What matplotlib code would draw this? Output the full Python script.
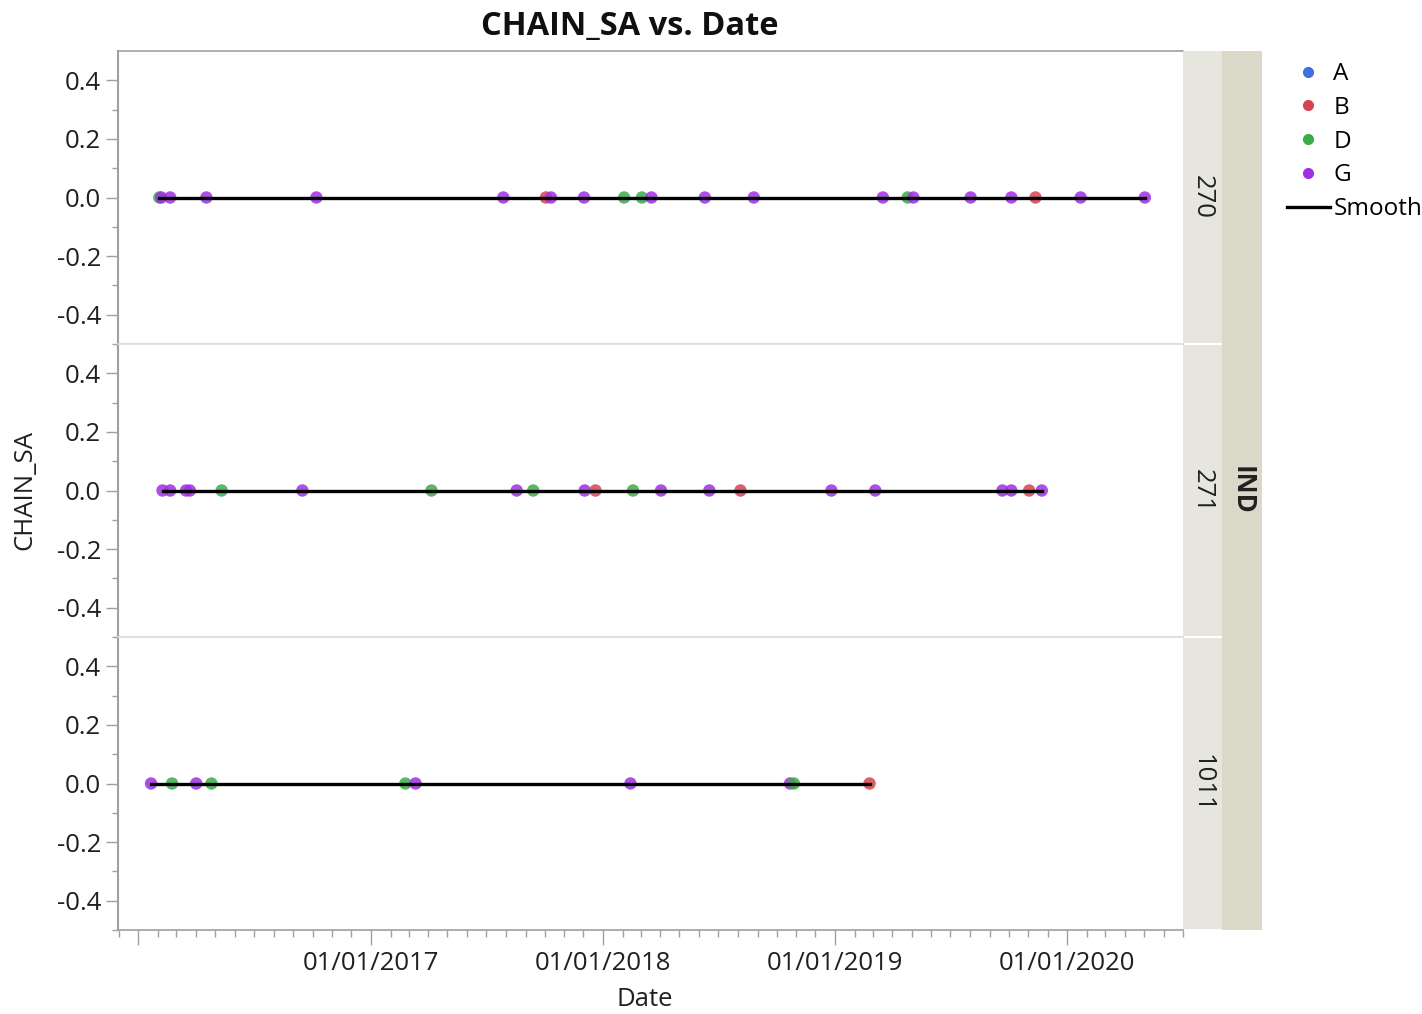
import matplotlib
matplotlib.use("Agg")
import matplotlib.pyplot as plt
import matplotlib.dates as mdates
from matplotlib.lines import Line2D
from matplotlib.ticker import FixedLocator
import numpy as np

plt.rcParams["font.family"] = ["Open Sans", "DejaVu Sans"]

# data (CHAIN_SA is 0 for every row)
panels = ["270", "271", "1011"]

dates_270 = ["2016-02-03", "2016-02-06", "2016-02-20", "2016-04-17", "2016-10-07",
             "2017-07-28", "2017-10-03", "2017-10-11", "2017-12-02", "2018-02-03",
             "2018-03-03", "2018-03-18", "2018-06-10", "2018-08-26", "2019-03-17",
             "2019-04-25", "2019-05-04", "2019-08-02", "2019-10-05", "2019-11-12",
             "2020-01-22", "2020-05-02"]
group_270 = ["D", "G", "G", "G", "G", "G", "B", "G", "G", "D", "D",
             "G", "G", "G", "G", "D", "G", "G", "G", "B", "G", "G"]
chain_270 = [0.0, 0.0, 0.0, 0.0, 0.0, 0.0, 0.0, 0.0, 0.0, 0.0, 0.0,
             0.0, 0.0, 0.0, 0.0, 0.0, 0.0, 0.0, 0.0, 0.0, 0.0, 0.0]

dates_271 = ["2016-02-08", "2016-02-20", "2016-03-16", "2016-03-22", "2016-05-11",
             "2016-09-15", "2017-04-06", "2017-08-18", "2017-09-13", "2017-12-03",
             "2017-12-20", "2018-02-17", "2018-04-02", "2018-06-17", "2018-08-05",
             "2018-12-26", "2019-03-05", "2019-09-21", "2019-10-05", "2019-11-02",
             "2019-11-22"]
group_271 = ["G", "G", "G", "G", "D", "G", "D", "G", "D", "G", "B",
             "D", "G", "G", "B", "G", "G", "G", "G", "B", "G"]
chain_271 = [0.0, 0.0, 0.0, 0.0, 0.0, 0.0, 0.0, 0.0, 0.0, 0.0, 0.0,
             0.0, 0.0, 0.0, 0.0, 0.0, 0.0, 0.0, 0.0, 0.0, 0.0]

dates_1011 = ["2016-01-21", "2016-02-23", "2016-04-01", "2016-04-25", "2017-02-24",
              "2017-03-12", "2018-02-13", "2018-10-22", "2018-10-28", "2019-02-24"]
group_1011 = ["G", "D", "G", "D", "D", "G", "G", "G", "D", "B"]
chain_1011 = [0.0, 0.0, 0.0, 0.0, 0.0, 0.0, 0.0, 0.0, 0.0, 0.0]

groups = ["A", "B", "D", "G"]
colors = {"A": "#3f6fe0", "B": "#d7434f", "D": "#3aad48", "G": "#a02fe3"}

W, H = 1422, 1014
fig = plt.figure(figsize=(W / 100, H / 100), dpi=100)

def px(x0, y0, x1, y1):
    return [x0 / W, 1 - y1 / H, (x1 - x0) / W, (y1 - y0) / H]

left, right = 118, 1183
tops = [51, 344, 637]
bots = [344, 637, 930]
fs = 18.5

all_dates = [dates_270, dates_271, dates_1011]
all_groups = [group_270, group_271, group_1011]
all_vals = [chain_270, chain_271, chain_1011]

xmin = np.datetime64("2015-11-30")
xmax = np.datetime64("2020-07-01")

axes = []
for i in range(3):
    ax = fig.add_axes(px(left, tops[i], right, bots[i]))
    d = np.array(all_dates[i], dtype="datetime64[D]")
    v = np.array(all_vals[i])
    c = [colors[g] for g in all_groups[i]]
    ax.scatter(d, v, s=80, c=c, alpha=0.85, linewidths=0, zorder=2)
    order = np.argsort(d)
    ax.plot(d[order], v[order], color="black", lw=2.4, zorder=3)
    ax.set_xlim(xmin, xmax)
    ax.set_ylim(-0.5, 0.5)
    ax.yaxis.set_major_locator(FixedLocator([-0.4, -0.2, 0.0, 0.2, 0.4]))
    ax.yaxis.set_minor_locator(FixedLocator([-0.5, -0.3, -0.1, 0.1, 0.3]))
    ax.set_yticklabels(["-0.4", "-0.2", "0.0", "0.2", "0.4"])
    ax.tick_params(axis="y", which="major", length=9, width=1, color="#a0a0a0",
                   labelsize=fs, labelcolor="#202020", pad=3)
    ax.tick_params(axis="y", which="minor", length=4.5, width=1, color="#a0a0a0")
    ax.spines["right"].set_visible(False)
    ax.spines["left"].set_color("#a0a0a0")
    ax.spines["left"].set_linewidth(1.5)
    ax.spines["top"].set_color("#a0a0a0" if i == 0 else "#dcdcdc")
    ax.spines["bottom"].set_color("#a0a0a0" if i == 2 else "#dcdcdc")
    ax.spines["top"].set_linewidth(1.2)
    ax.spines["bottom"].set_linewidth(1.2)
    if i < 2:
        ax.tick_params(axis="x", which="both", bottom=False, labelbottom=False)
    axes.append(ax)

axb = axes[2]
axb.xaxis.set_major_locator(mdates.YearLocator())
axb.xaxis.set_minor_locator(mdates.MonthLocator())
fmt = mdates.DateFormatter("%m/%d/%Y")
axb.xaxis.set_major_formatter(plt.FuncFormatter(
    lambda x, pos: "" if mdates.num2date(x).year == 2016 else fmt(x)))
axb.tick_params(axis="x", which="major", length=11, width=1, color="#a0a0a0",
                labelsize=fs, labelcolor="#202020", pad=4)
axb.tick_params(axis="x", which="minor", length=5, width=1, color="#a0a0a0")

# strips on the right
for i in range(3):
    sa = fig.add_axes(px(1183, tops[i] + (1 if i else 0), 1222, bots[i] - 1))
    sa.set_xticks([])
    sa.set_yticks([])
    sa.set_facecolor("#e6e6df")
    for s in sa.spines.values():
        s.set_visible(False)
    sa.text(0.5, 0.5, panels[i], rotation=270, ha="center", va="center",
            fontsize=fs, color="#202020", transform=sa.transAxes)
oa = fig.add_axes(px(1222, 51, 1262, 930))
oa.set_xticks([])
oa.set_yticks([])
oa.set_facecolor("#d9d8c9")
for s in oa.spines.values():
    s.set_visible(False)
oa.text(0.5, 0.5, "IND", rotation=270, ha="center", va="center",
        fontsize=fs, fontweight="bold", color="#202020", transform=oa.transAxes)

fig.text(630 / W, 1 - 26 / H, "CHAIN_SA vs. Date", ha="center", va="center",
         fontsize=23.5, fontweight="bold", color="#101010")
fig.text(25 / W, 1 - 490 / H, "CHAIN_SA", rotation=90, ha="center", va="center",
         fontsize=fs, color="#202020")
fig.text(645 / W, 1 - 1000 / H, "Date", ha="center", va="center",
         fontsize=fs, color="#202020")

handles = [Line2D([], [], ls="none", marker="o", ms=7, color=colors[g]) for g in groups]
handles.append(Line2D([], [], color="black", lw=2.4))
fig.legend(handles, groups + ["Smooth"], loc="upper left",
           bbox_to_anchor=(1275 / W, 1 - 50 / H), frameon=False, fontsize=17.5,
           handlelength=1.75, handletextpad=0.15, labelspacing=0.4, borderpad=0)

fig.savefig("out.png", dpi=100)
